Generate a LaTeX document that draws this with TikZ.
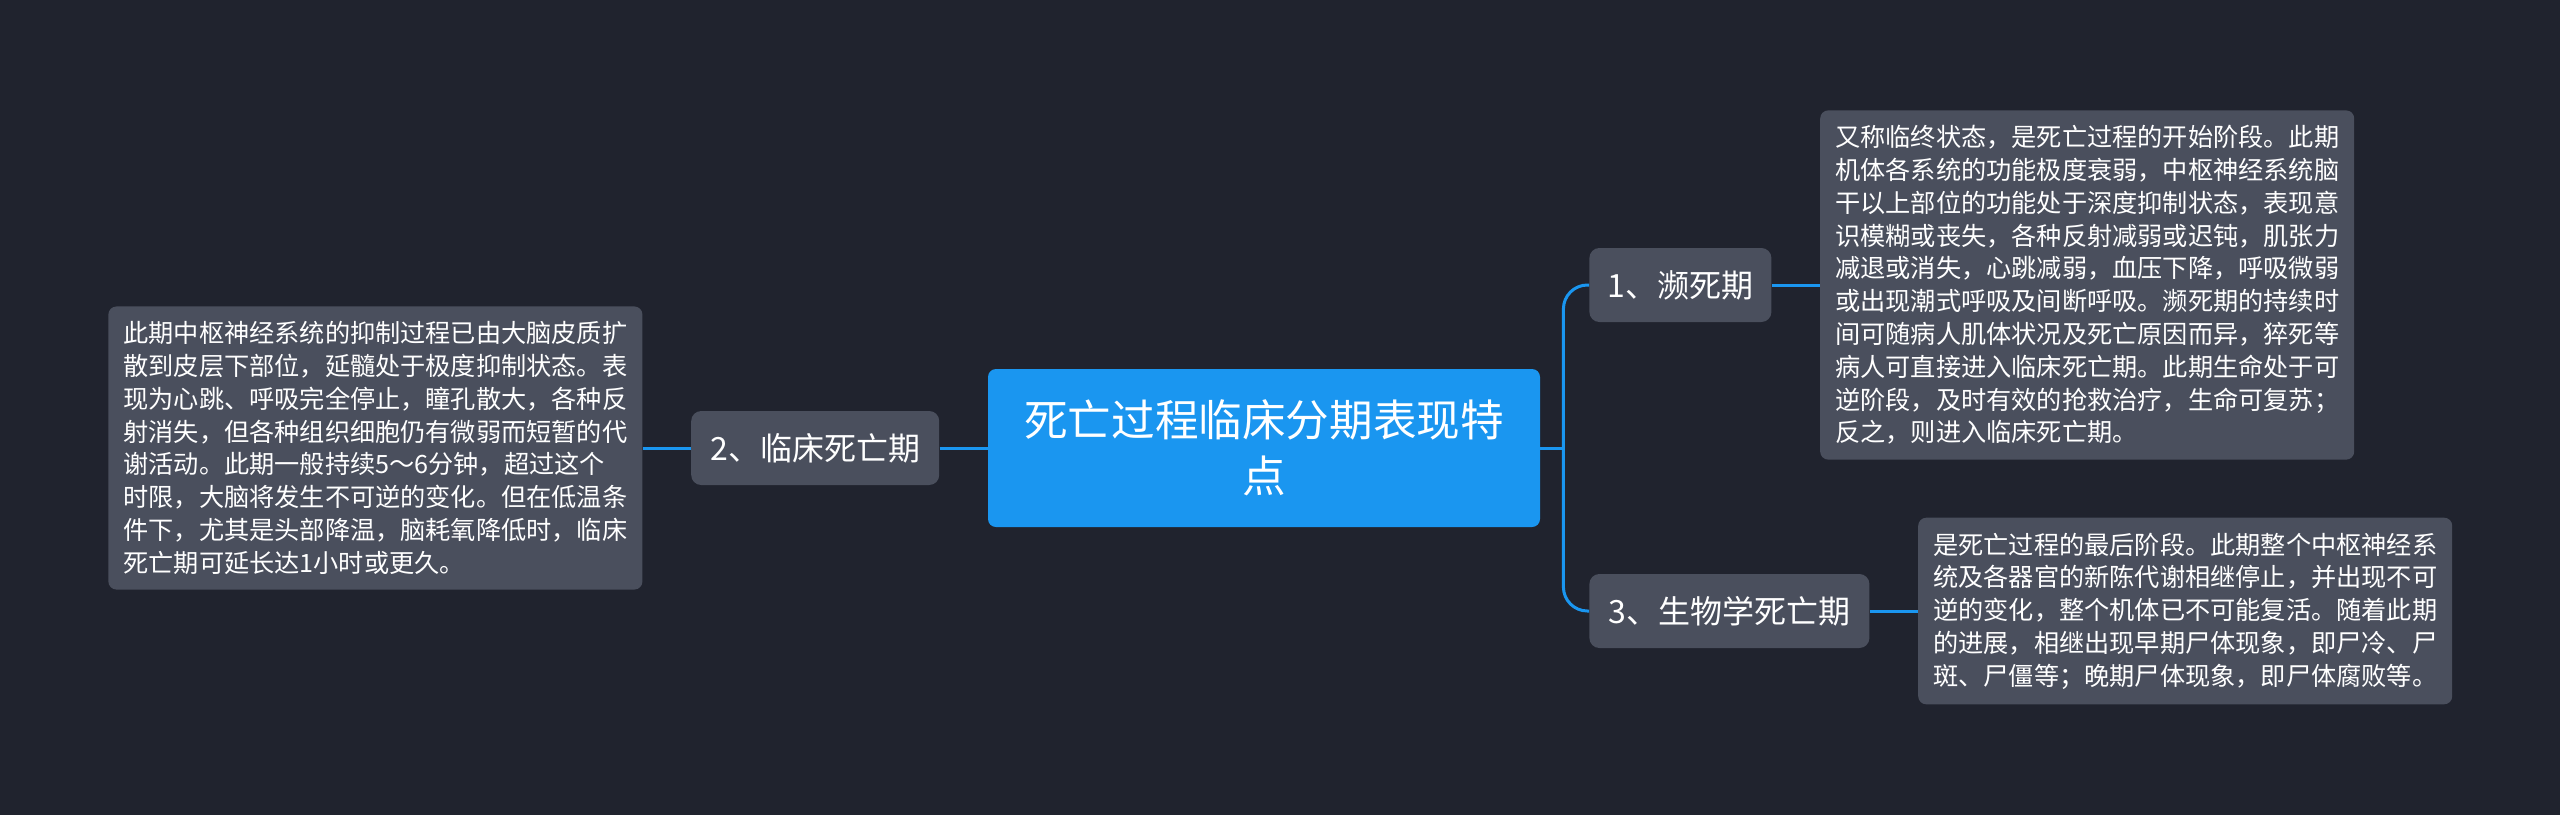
\documentclass[tikz,border=0pt]{standalone}
\usepackage{fontspec}
\setmainfont{Noto Sans CJK SC}
\usepackage{tikz}
\usetikzlibrary{positioning}
\definecolor{bgdark}{HTML}{20232E}
\definecolor{topicgray}{HTML}{4A4F5D}
\definecolor{rootblue}{HTML}{1A96F0}

\begin{document}
\begin{tikzpicture}[x=0.5pt,y=-0.5pt]
	\tikzstyle{every node}=[rectangle, rounded corners=4pt, text=white, inner sep=0pt]
	\tikzstyle{rootbox}=[fill=rootblue, minimum width=276pt, minimum height=79pt, align=center, font=\fontsize{21.8}{27.8}\selectfont]
	\tikzstyle{topic}=[fill=topicgray, rounded corners=5pt, minimum height=37pt, font=\fontsize{16}{20}\selectfont]
	\tikzstyle{leaf}=[fill=topicgray, align=left, inner sep=7.5pt, font=\fontsize{12.6}{16.4}\selectfont]
	\tikzstyle{link}=[draw=rootblue, line width=1.5pt]
	\fill[bgdark] (0,0) rectangle (2560,815);
	\useasboundingbox (0,0) rectangle (2560,815);
	% centre and first level
	\node[rootbox] (root) at (1264,448) {死亡过程临床分期表现特\\点};
	\node[topic, minimum width=124pt, left=24pt of root] (stage2) {2、临床死亡期};
	\node[topic, minimum width=91pt, anchor=west] (stage1) at (1589,285) {1、濒死期};
	\node[topic, minimum width=140pt, anchor=west] (stage3) at (1589,611) {3、生物学死亡期};
	% details
	\node[leaf, right=24pt of stage1] (note1) {又称临终状态，是死亡过程的开始阶段。此期\\
		机体各系统的功能极度衰弱，中枢神经系统脑\\
		干以上部位的功能处于深度抑制状态，表现意\\
		识模糊或丧失，各种反射减弱或迟钝，肌张力\\
		减退或消失，心跳减弱，血压下降，呼吸微弱\\
		或出现潮式呼吸及间断呼吸。濒死期的持续时\\
		间可随病人肌体状况及死亡原因而异，猝死等\\
		病人可直接进入临床死亡期。此期生命处于可\\
		逆阶段，及时有效的抢救治疗，生命可复苏；\\
		反之，则进入临床死亡期。};
	\node[leaf, left=24pt of stage2] (note2) {此期中枢神经系统的抑制过程已由大脑皮质扩\\
		散到皮层下部位，延髓处于极度抑制状态。表\\
		现为心跳、呼吸完全停止，瞳孔散大，各种反\\
		射消失，但各种组织细胞仍有微弱而短暂的代\\
		谢活动。此期一般持续5～6分钟，超过这个\\
		时限，大脑将发生不可逆的变化。但在低温条\\
		件下，尤其是头部降温，脑耗氧降低时，临床\\
		死亡期可延长达1小时或更久。};
	\node[leaf, right=24pt of stage3] (note3) {是死亡过程的最后阶段。此期整个中枢神经系\\
		统及各器官的新陈代谢相继停止，并出现不可\\
		逆的变化，整个机体已不可能复活。随着此期\\
		的进展，相继出现早期尸体现象，即尸冷、尸\\
		斑、尸僵等；晚期尸体现象，即尸体腐败等。};
	% connectors
	\coordinate[right=11.5pt of root.east] (fork);
	\draw[link] (root) -- (fork);
	\draw[link, rounded corners=12pt] (stage1.west) -| (fork) |- (stage3.west);
	\draw[link] (stage2) -- (root);
	\draw[link] (note2) -- (stage2);
	\draw[link] (stage1) -- (note1);
	\draw[link] (stage3) -- (note3);
\end{tikzpicture}
\end{document}
